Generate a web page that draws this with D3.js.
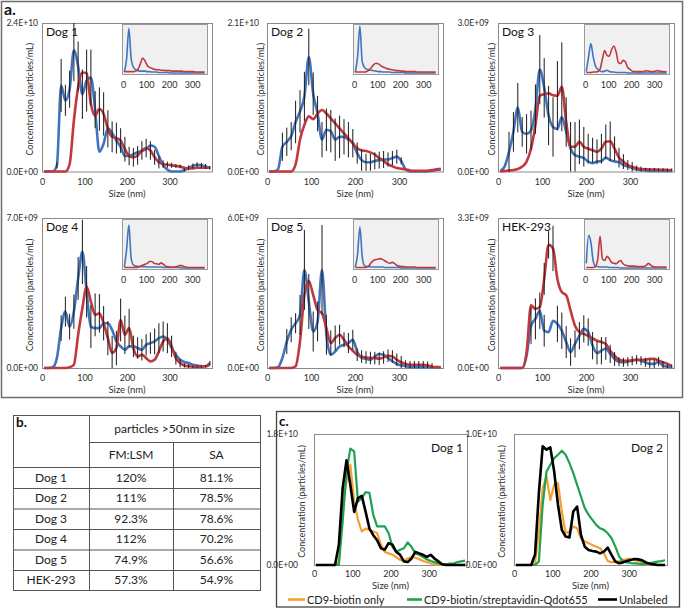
<!DOCTYPE html>
<html><head><meta charset="utf-8">
<script src="https://cdn.jsdelivr.net/npm/d3@7"></script>
<style>
body{margin:0;background:#fff;}
svg{display:block;font-family:Lato,"Open Sans",sans-serif;}
</style></head><body><svg id="c" width="685" height="611"></svg>
<script>
// ---------------- DATA ----------------
const sizesNm = [5,15,25,35,45,55,65,75,85,95,105,115,125,135,145,155,165,175,185,195,205,215,225,235,245,255,265,275,285,295,305,315,325,335,345,355,365,375,385,395];
const insetSizesNm = [5,15,25,35,45,55,65,75,85,95,105,115,125,135,145,155,165,175,185,195,205,215,225,235,245,255,265,275,285,295,305,315,325,335,345,355];
const xTicks = [0,100,200,300];
const panelNames = ["Dog 1","Dog 2","Dog 3","Dog 4","Dog 5","HEK-293"];
const yMaxValues = [2.4e10, 2.1e10, 3.0e9, 7.0e9, 6.0e9, 3.3e9];
const valueUnits = [1e9, 1e9, 1e8, 1e8, 1e8, 1e8];

// panel a, main plots (blue / red series, concentration in valueUnits)
const dog1Blue = [0,0,0,1,13.9,11.5,13.3,19.6,17,12.5,14.7,15.2,10,3.2,4.5,7,6.2,5,4,2.5,2.5,2.8,3.1,3.3,3.6,4.2,4,2.5,1,0.3,0,0,0,0.2,0.6,0.9,1.1,1,0.8,0.6];
const dog1Red = [0,0,0,0,0,0,1.2,8.2,13.6,16,15.9,10.9,9,10.1,9.3,6.9,5.6,5.4,5,3.6,2.5,2.3,2.6,3.4,3.8,3.4,2.3,1.5,1.2,1.1,1,0.9,0.8,0.6,0.5,0.5,0.6,0.6,0.6,0.6];
const dog1BlueErr = [0,0,0,0.5,4.3,2.5,3,5,4,4,5,4.5,3,0,0,0,0,0,0,0,0,0,0,0,0,0,0,0,0,0,0,0,0,0.3,0.4,0.4,0.4,0.4,0.4,0.3];
const dog1RedErr = [0,0,0,0,0,0,0,0,0,0,0,0,0,3.5,3.5,3,2.5,2.5,2,2,1.5,1.5,1.5,1.5,1.5,1.5,1.2,1,0.6,0.5,0.4,0.3,0.3,0,0,0,0,0,0,0];

const dog2Blue = [0,0,0.3,3.5,4.2,5,7,8.5,10.6,16.2,11,8.2,4.5,5.9,5.7,4.5,4.9,4.9,4.5,4,2.6,1.6,1.3,1.3,1.5,1.6,1.7,1.7,1.9,2.1,1.5,0.3,0,0,0,0,0,0.1,0.2,0.3];
const dog2Red = [0,0,0,0,0,0,1,4.5,6.6,7.8,7.4,8.2,8.7,8.2,7.5,6.8,6.1,5.4,4.7,4,3.3,3,2.9,2.7,2.4,1.9,1.5,1,0.75,0.5,0.4,0.3,0.15,0.1,0.1,0.1,0.1,0.2,0.3,0.4];
const dog2BlueErr = [0,0,0,2,2,2,3,3,3.5,4,3,2.5,2.5,3,3,3,3,2.5,2.5,2,1.5,1.5,1.2,1.2,1.2,1.2,1.2,1,1,1,0.5,0,0,0,0,0,0,0,0,0];
const dog2RedErr = [0,0,0,0,0,0,0,0,0,0,0,0,0,0,0,0,0,0,0,0,0,0,0,0,0,0,0,0,0,0,0,0,0,0,0,0,0,0,0,0];

const dog3Blue = [0.1,1,4,8,12.9,8,7.6,8.3,12.6,20.6,16.9,11.3,9,8.6,11,8,4.6,3.3,3,2.7,2,1.7,2,2.1,2.8,2.3,2,1.9,1.3,1,0.7,0.4,0.3,0.2,0.1,0.1,0.1,0.1,0.1,0.1];
const dog3Red = [0,0.1,0.2,0.3,0.5,1,2,4.6,9.3,15.3,15.6,15.8,15.4,15.3,17.1,10,5,5,6,5,4.6,4.3,4,4.6,6,6.1,4.6,2.8,2,1.3,0.9,0.7,0.5,0.45,0.4,0.4,0.35,0.35,0.3,0.3];
const dog3BlueErr = [0,0,4,4,5,3,4,4,5,7,6,6,6,0,0,0,0,0,0,0,0,0,0,0,0,0,0,0,0,0,0,0,0,0,0,0,0,0,0,0];
const dog3RedErr = [0,0,0,0,0,0,0,0,0,0,0,0,0,7,9,5,5,5,4.5,4,3,2.5,2.5,3,3.5,4,2.5,2,1.5,1,1,0.5,0.5,0.3,0.3,0.3,0.3,0.3,0.3,0.3];

const dog4Blue = [0,0,0.3,4.6,18.6,26.3,19.3,26.3,41.8,54.2,35.6,19.3,18.6,18.6,20.9,20.9,17.8,12.4,10.1,8.5,10.1,10.1,9.3,8.5,10.8,11.6,12.4,13.9,14.7,13.2,9.3,6.2,3.9,2.8,2.3,1.5,1.2,0.9,0.8,1.5];
const dog4Red = [0,0,0,0,0,0,0.3,1.5,15.5,27.9,37.9,31,24.8,25.5,20.9,13.9,7,9.3,22.4,15.5,18.6,9.3,5.4,6.2,4.6,3.1,3.9,7.7,12.4,13.9,10.1,4.6,2.3,1.2,0.8,0.6,0.6,0.6,0.8,2.3];
const dog4BlueErr = [0,0,0,0,6,7,6,8,10,15,12,10,0,0,0,0,0,0,0,0,0,5,5,5,5,5,6,7,7,0,0,0,0,0,0,0,0,0,0,0];
const dog4RedErr = [0,0,0,0,0,0,0,0,0,0,0,0,10,9,8,8,8,8,10,9,9,0,0,0,0,0,0,0,0,7,5,3,2,1,1,0.5,0.5,0.5,0.5,1];

const dog5Blue = [0,0,0.3,4,10.6,15.3,17.9,21.2,39.2,26.6,14.6,18.6,39.2,13.3,5.3,6.6,8.6,9.3,10,11.3,6.6,4,3.7,3.3,4.6,5.6,5.3,4,2.7,1.6,1.1,0.7,0.4,0.3,0.3,0.3,0.3,0.3,0.3,0.3];
const dog5Red = [0,0,0,0,0,0,0.7,10.6,29.2,34.8,29.2,23.2,21.9,15.9,10,12,13.3,11.3,8.6,6.9,5.3,4.6,4.2,4,4,3.7,4.2,4.9,4.6,3.3,2.3,1.6,1.3,1.3,1.3,1.3,1.1,0.5,0.4,0.3];
const dog5BlueErr = [0,0,0,0,5,5,4,8,16,11,8,8,18,8,0,0,0,0,4,4,0,0,0,0,0,0,0,0,0,0,0,0,0,0,0,0,0,0,0,0];
const dog5RedErr = [0,0,0,0,0,0,0,0,0,0,0,0,0,0,5,5,4,3,0,0,2.5,2.5,2.5,2.5,2.5,2.5,2.5,2.5,2.5,2.5,2.5,1.5,1.5,1.5,1.5,1.5,1.5,1.5,0,0];

const hekBlue = [0,0,0,0,0,0,2.7,9.3,10.8,12.6,8.2,7.9,10.4,9.7,8.2,5.7,3.5,5.3,7.1,8.6,7.9,4.9,3.3,3.8,4.3,3.1,2,1.4,1.25,1.4,1.6,1.8,1.6,1.25,0.9,0.9,1.4,0.5,0.3,0.15];
const hekRed = [0,0,0,0,0,0,3.5,13.8,13,13.4,19.6,27.1,26.3,19.6,16.7,16,12.6,9.3,7.9,7.5,7.1,6.5,6,5.7,5.3,3.8,2.7,1.8,1.6,1.6,1.7,1.8,1.8,1.8,2,2,1.6,1.25,0.9,0.5];
const hekBlueErr = [0,0,0,0,0,0,0,4,4.5,4,3.5,0,0,4,4,3.5,3,3,3,3,3,3,2.5,3,2.5,2,1.5,1,1,1,1,1,1,1,1,1,1,1,0.5,0.5];
const hekRedErr = [0,0,0,0,0,0,0,0,0,0,3.5,3,5,0,0,0,0,0,0,0,0,0,0,0,0,0,0,0,0,0,0,0,0,0,0,0,0,0,0,0];

// insets (relative height, full size range)
const dog1InsetBlue = [0.02,0.3,0.95,0.3,0.12,0.07,0.05,0.04,0.04,0.04,0.03,0.03,0.02,0.02,0.02,0.01,0.01,0.01,0.01,0.01,0,0,0,0,0,0,0,0,0,0,0,0,0,0,0,0];
const dog1InsetRed = [0.03,0.03,0.03,0.03,0.03,0.04,0.08,0.2,0.32,0.26,0.16,0.12,0.1,0.08,0.07,0.07,0.06,0.06,0.05,0.05,0.05,0.04,0.04,0.04,0.04,0.04,0.03,0.03,0.03,0.03,0.03,0.02,0.02,0.02,0.02,0.02];
const dog2InsetBlue = [0.02,0.35,1.0,0.25,0.12,0.08,0.07,0.06,0.05,0.04,0.03,0.03,0.02,0.02,0.02,0.02,0.01,0.01,0.01,0.01,0.01,0.01,0,0,0,0,0,0,0,0,0,0,0,0,0,0];
const dog2InsetRed = [0.02,0.02,0.02,0.02,0.02,0.03,0.06,0.12,0.18,0.21,0.2,0.16,0.13,0.11,0.09,0.08,0.07,0.06,0.05,0.05,0.04,0.04,0.03,0.03,0.03,0.03,0.03,0.02,0.02,0.02,0.02,0.02,0.02,0.02,0.02,0.02];
const dog3InsetBlue = [0.03,0.35,0.63,0.35,0.15,0.08,0.04,0.03,0.04,0.06,0.03,0.02,0.02,0.01,0.01,0.01,0.01,0.01,0,0,0,0,0,0,0,0,0,0,0,0,0,0,0,0,0,0];
const dog3InsetRed = [0.01,0.01,0.01,0.02,0.02,0.03,0.08,0.3,0.48,0.38,0.36,0.5,0.58,0.45,0.22,0.2,0.27,0.24,0.12,0.08,0.04,0.03,0.03,0.03,0.03,0.03,0.05,0.04,0.03,0.03,0.04,0.05,0.04,0.03,0.03,0.02];
const dog4InsetBlue = [0.02,0.4,0.92,0.2,0.06,0.04,0.03,0.03,0.03,0.03,0.02,0.02,0.02,0.02,0.02,0.02,0.02,0.01,0.01,0.01,0.01,0.01,0.01,0.01,0.01,0,0,0,0,0,0,0,0,0,0,0];
const dog4InsetRed = [0.01,0.01,0.01,0.01,0.01,0.01,0.02,0.04,0.06,0.08,0.1,0.14,0.14,0.1,0.09,0.08,0.11,0.08,0.04,0.03,0.02,0.02,0.02,0.03,0.05,0.05,0.03,0.02,0.01,0.01,0.01,0.01,0.01,0.01,0.01,0.01];
const dog5InsetBlue = [0.02,0.3,0.88,0.25,0.05,0.03,0.03,0.02,0.02,0.02,0.02,0.02,0.02,0.01,0.01,0.01,0.01,0.01,0.01,0.01,0,0,0,0,0,0,0,0,0,0,0,0,0,0,0,0];
const dog5InsetRed = [0.01,0.01,0.01,0.01,0.01,0.02,0.05,0.12,0.16,0.18,0.19,0.2,0.18,0.15,0.12,0.1,0.12,0.1,0.06,0.04,0.03,0.03,0.02,0.02,0.02,0.02,0.02,0.01,0.01,0.01,0.01,0.01,0.01,0.01,0.01,0.01];
const hekInsetBlue = [0.1,0.7,0.55,0.15,0.04,0.03,0.02,0.02,0.02,0.02,0.01,0.01,0.01,0.01,0.01,0,0,0,0,0,0,0,0,0,0,0,0,0,0,0,0,0,0,0,0,0];
const hekInsetRed = [0.01,0.01,0.01,0.01,0.03,0.2,0.68,0.2,0.16,0.25,0.2,0.12,0.1,0.09,0.13,0.16,0.09,0.06,0.05,0.04,0.04,0.04,0.03,0.03,0.03,0.03,0.05,0.1,0.06,0.03,0.02,0.02,0.02,0.02,0.02,0.02];

// panel b
const tableHeader = "particles >50nm in size";
const tableCols = ["FM:LSM","SA"];
const tableRows = ["Dog 1","Dog 2","Dog 3","Dog 4","Dog 5","HEK-293"];
const fmLsmValues = ["120%","111%","92.3%","112%","74.9%","57.3%"];
const saValues = ["81.1%","78.5%","78.6%","70.2%","56.6%","54.9%"];

// panel c
const cNames = ["Dog 1","Dog 2"];
const cYMax = [1.8e10, 1.0e10];
const cUnits = [1e9, 1e8];
const cDog1Orange = [0,0,0,0,0,0,0.5,8.3,11.5,13.8,8.7,6.2,4.6,5,4.8,4.6,4.4,2.8,1.8,1.6,1.4,1.1,0.7,0.55,0.9,1.1,1,0.8,0.55,0.4,0.2,0.1,0,0,0,0,0,0,0,0.1];
const cDog1Green = [0,0,0,0,0,0,0,6,12.8,16,15.6,8.7,9.2,10,9.9,6.9,5.3,5.3,5.3,4.4,2.5,1.8,2.1,2.3,3.1,2.5,1.6,1.4,1.1,0.8,0.55,0.4,0.2,0.1,0.1,0.2,0.2,0.4,0.5,0.6];
const cDog1Black = [0,0,0,0,0,0,2.8,10.6,14.4,11,7.3,9.2,9.5,7.3,5,4.1,3.4,2.3,2.1,3,2.8,1.8,1.4,0.5,0.4,0.9,1.8,1.6,1.4,1.1,1.4,0.9,0.5,0.1,0,0,0,0,0,0];
const cDog2Orange = [0,0,0,0,0,1.3,25.5,58.7,67.6,49.7,61.2,62.5,40.8,24.2,25.5,29.3,28,20.4,17.9,16.6,15.3,14,12.8,8.9,3,2,2.6,3,3.8,4.6,4.6,3.8,3,2,0.5,0.5,0.5,0.3,0.2,0.1];
const cDog2Green = [0,0,0,0,0,0,2.6,46,71.4,76.5,81.6,84.2,87.2,84.2,77.8,70.2,61.2,52.3,43.4,38.3,34.4,30.6,28,26.8,24.2,20.4,14,6.4,3,2,1.5,1.3,1,0.8,0.8,1.5,2,2.6,3,3.6];
const cDog2Black = [0,0,0,0,0,8,55,90.6,88,89.8,71.4,46,26.8,21.7,21,40.8,44.6,23,14,11.5,10.7,10.2,8.9,10.2,13.3,7.7,2.6,1.3,2,3,3.8,4.6,4.3,3.6,2,1,0.5,0,0,0];
const legendLabels = ["CD9-biotin only","CD9-biotin/streptavidin-Qdot655","Unlabeled"];

// ---------------- STYLE / LAYOUT ----------------
const BLUE = "#4174bd", RED = "#c0393d", ORANGE = "#f5a032", GREEN = "#1fa152", BLACK = "#000";
const FRAME = "#8a8a8a", TXT = "#2e2e2e";
const FONT = "Lato, 'Open Sans', sans-serif";

const svg = d3.select("#c");

function sci(v){
  if (v === 0) return "0.0E+00";
  const e = Math.floor(Math.log10(v) + 1e-9);
  const m = v / Math.pow(10, e);
  return m.toFixed(1) + "E+" + String(e).padStart(2, "0");
}

// panel a frame
svg.append("rect").attr("x",1.5).attr("y",1.5).attr("width",681).attr("height",396)
  .attr("fill","none").attr("stroke","#6d6d6d").attr("stroke-width",1.5);
svg.append("text").attr("x",4).attr("y",15).attr("font-size",16).attr("font-weight","bold").attr("fill","#111").text("a.");

const mainBlue = [dog1Blue,dog2Blue,dog3Blue,dog4Blue,dog5Blue,hekBlue];
const mainRed = [dog1Red,dog2Red,dog3Red,dog4Red,dog5Red,hekRed];
const mainBlueErr = [dog1BlueErr,dog2BlueErr,dog3BlueErr,dog4BlueErr,dog5BlueErr,hekBlueErr];
const mainRedErr = [dog1RedErr,dog2RedErr,dog3RedErr,dog4RedErr,dog5RedErr,hekRedErr];
const insetBlue = [dog1InsetBlue,dog2InsetBlue,dog3InsetBlue,dog4InsetBlue,dog5InsetBlue,hekInsetBlue];
const insetRed = [dog1InsetRed,dog2InsetRed,dog3InsetRed,dog4InsetRed,dog5InsetRed,hekInsetRed];

const colLayout = [
  {left:42, right:212, labelRight:38, titleX:30, insetX:122},
  {left:267, right:443, labelRight:259, titleX:261, insetX:353},
  {left:498, right:674, labelRight:489, titleX:492, insetX:584}
];
const rowLayout = [{top:23, bottom:171.5},{top:218, bottom:368}];

panelNames.forEach((name, p) => {
  const c = colLayout[p % 3], r = rowLayout[Math.floor(p / 3)];
  const unit = valueUnits[p], ymax = yMaxValues[p] / unit;
  const x = d3.scaleLinear().domain([0,400]).range([c.left, c.right]);
  const y = d3.scaleLinear().domain([0,ymax]).range([r.bottom, r.top]).clamp(true);
  const g = svg.append("g");

  g.append("rect").attr("x",c.left+0.5).attr("y",r.top+0.5).attr("width",c.right-c.left).attr("height",r.bottom-r.top)
    .attr("fill","#fff").attr("stroke",FRAME).attr("stroke-width",1);

  const xa = g.append("g").attr("transform",`translate(0,${r.bottom})`)
    .call(d3.axisBottom(x).tickValues(xTicks).tickSize(0).tickPadding(7).tickFormat(d3.format("d")));
  xa.select(".domain").remove();
  xa.selectAll("text").attr("font-size",9).attr("fill",TXT).attr("font-family",FONT);

  const ya = g.append("g").attr("transform",`translate(${c.labelRight},0)`)
    .call(d3.axisLeft(y).tickValues([0,ymax]).tickSize(0).tickPadding(0).tickFormat(v => sci(v*unit)));
  ya.select(".domain").remove();
  ya.selectAll("text").attr("font-size",8.5).attr("fill",TXT).attr("font-family",FONT);

  g.append("text").attr("x",(c.left+c.right)/2).attr("y",r.bottom+25).attr("text-anchor","middle")
    .attr("font-size",9.5).attr("fill",TXT).text("Size (nm)");
  g.append("text").attr("transform",`translate(${c.titleX},${(r.top+r.bottom)/2+2}) rotate(-90)`)
    .attr("text-anchor","middle").attr("dy","0.35em").attr("font-size",9).attr("fill",TXT)
    .text("Concentration (particles/mL)");
  g.append("text").attr("x",c.left+4).attr("y",r.top+13).attr("font-size",12).attr("fill","#111").text(name);

  const line = d3.line().x((d,i)=>x(sizesNm[i])).y(d=>y(d)).curve(d3.curveMonotoneX);
  g.append("path").datum(mainBlue[p]).attr("d",line).attr("fill","none").attr("stroke",BLUE).attr("stroke-width",2.6).attr("stroke-linejoin","round");
  g.append("path").datum(mainRed[p]).attr("d",line).attr("fill","none").attr("stroke",RED).attr("stroke-width",2.6).attr("stroke-linejoin","round");

  [[mainBlue[p],mainBlueErr[p]],[mainRed[p],mainRedErr[p]]].forEach(([vals,errs]) => {
    g.append("g").selectAll("line").data(errs.map((e,i)=>({e,v:vals[i],s:sizesNm[i]})).filter(d=>d.e>0))
      .join("line")
      .attr("x1",d=>x(d.s)).attr("x2",d=>x(d.s))
      .attr("y1",d=>y(d.v+d.e)).attr("y2",d=>y(Math.max(0,d.v-d.e)))
      .attr("stroke","#1a1a1a").attr("stroke-width",1);
  });

  const ix0 = c.insetX, ix1 = c.insetX + 85, iy0 = r.top + 1, iy1 = r.top + 51;
  const ix = d3.scaleLinear().domain([-5,365]).range([ix0, ix1]);
  const iy = d3.scaleLinear().domain([0,1.05]).range([iy1-1, iy0]);
  g.append("rect").attr("x",ix0+0.5).attr("y",iy0+0.5).attr("width",ix1-ix0).attr("height",iy1-iy0)
    .attr("fill","#f0f0f0").attr("stroke","#9a9a9a").attr("stroke-width",1);
  const iline = d3.line().x((d,i)=>ix(insetSizesNm[i])).y(d=>iy(d)).curve(d3.curveMonotoneX);
  g.append("path").datum(insetBlue[p]).attr("d",iline).attr("fill","none").attr("stroke",BLUE).attr("stroke-width",1.6);
  g.append("path").datum(insetRed[p]).attr("d",iline).attr("fill","none").attr("stroke",RED).attr("stroke-width",1.6);
  const ia = g.append("g").attr("transform",`translate(0,${iy1})`)
    .call(d3.axisBottom(ix).tickValues(xTicks).tickSize(0).tickPadding(8).tickFormat(d3.format("d")));
  ia.select(".domain").remove();
  ia.selectAll("text").attr("font-size",9).attr("fill",TXT).attr("font-family",FONT);
});

// ---------------- panel b: table ----------------
const tb = svg.append("g");
const tX = [13, 89, 173, 260];
const tY = [415, 442, 467, 488, 508.5, 529, 549.5, 570, 590];
const TL = "#555";
tb.append("rect").attr("x",tX[0]+0.5).attr("y",tY[0]+0.5).attr("width",tX[3]-tX[0]).attr("height",tY[8]-tY[0])
  .attr("fill","none").attr("stroke",TL).attr("stroke-width",1);
tb.append("line").attr("x1",tX[1]+0.5).attr("x2",tX[1]+0.5).attr("y1",tY[0]).attr("y2",tY[8]).attr("stroke",TL);
tb.append("line").attr("x1",tX[2]+0.5).attr("x2",tX[2]+0.5).attr("y1",tY[1]).attr("y2",tY[8]).attr("stroke",TL);
tb.append("line").attr("x1",tX[1]).attr("x2",tX[3]).attr("y1",tY[1]+0.5).attr("y2",tY[1]+0.5).attr("stroke",TL);
for (let k = 2; k < 8; k++) {
  tb.append("line").attr("x1",tX[0]).attr("x2",tX[3]).attr("y1",tY[k]+0.5).attr("y2",tY[k]+0.5).attr("stroke",TL);
}
tb.append("text").attr("x",16).attr("y",427).attr("font-size",13.5).attr("font-weight","bold").attr("fill","#111").text("b.");
const tcx = [(tX[0]+tX[1])/2, (tX[1]+tX[2])/2, (tX[2]+tX[3])/2];
function cell(txt, cx, cy){
  tb.append("text").attr("x",cx).attr("y",cy).attr("dy","0.35em").attr("text-anchor","middle")
    .attr("font-size",12).attr("fill","#222").text(txt);
}
cell(tableHeader, (tX[1]+tX[3])/2, (tY[0]+tY[1])/2);
cell(tableCols[0], tcx[1], (tY[1]+tY[2])/2);
cell(tableCols[1], tcx[2], (tY[1]+tY[2])/2);
tableRows.forEach((rname, i) => {
  const cy = (tY[i+2]+tY[i+3])/2;
  cell(rname, tcx[0], cy);
  cell(fmLsmValues[i], tcx[1], cy);
  cell(saValues[i], tcx[2], cy);
});

// ---------------- panel c ----------------
svg.append("rect").attr("x",276.5).attr("y",411.5).attr("width",403).attr("height",195.5)
  .attr("fill","none").attr("stroke","#444").attr("stroke-width",1.3);
svg.append("text").attr("x",279).attr("y",426).attr("font-size",13.5).attr("font-weight","bold").attr("fill","#111").text("c.");

const cSeries = [[cDog1Orange,cDog1Green,cDog1Black],[cDog2Orange,cDog2Green,cDog2Black]];
const cColors = [ORANGE, GREEN, BLACK];
const cLayout = [{left:314, right:467, labelRight:298, titleX:302},{left:514, right:667, labelRight:497, titleX:502}];
const cTop = 434, cBottom = 565;
cNames.forEach((name, p) => {
  const L = cLayout[p], unit = cUnits[p], ymax = cYMax[p]/unit;
  const x = d3.scaleLinear().domain([0,400]).range([L.left, L.right]);
  const y = d3.scaleLinear().domain([0,ymax]).range([cBottom, cTop]).clamp(true);
  const g = svg.append("g");
  g.append("rect").attr("x",L.left+0.5).attr("y",cTop+0.5).attr("width",L.right-L.left).attr("height",cBottom-cTop)
    .attr("fill","#fff").attr("stroke",FRAME).attr("stroke-width",1);
  const xa = g.append("g").attr("transform",`translate(0,${cBottom})`)
    .call(d3.axisBottom(x).tickValues(xTicks).tickSize(0).tickPadding(6).tickFormat(d3.format("d")));
  xa.select(".domain").remove();
  xa.selectAll("text").attr("font-size",9).attr("fill",TXT).attr("font-family",FONT);
  const ya = g.append("g").attr("transform",`translate(${L.labelRight},0)`)
    .call(d3.axisLeft(y).tickValues([0,ymax]).tickSize(0).tickPadding(0).tickFormat(v => sci(v*unit)));
  ya.select(".domain").remove();
  ya.selectAll("text").attr("font-size",8.5).attr("fill",TXT).attr("font-family",FONT);
  g.append("text").attr("x",(L.left+L.right)/2).attr("y",cBottom+24).attr("text-anchor","middle")
    .attr("font-size",9.5).attr("fill",TXT).text("Size (nm)");
  g.append("text").attr("transform",`translate(${L.titleX},${(cTop+cBottom)/2+2}) rotate(-90)`)
    .attr("text-anchor","middle").attr("dy","0.35em").attr("font-size",9).attr("fill",TXT)
    .text("Concentration (particles/mL)");
  g.append("text").attr("x",L.right-4).attr("y",cTop+18).attr("text-anchor","end").attr("font-size",12).attr("fill","#111").text(name);
  const line = d3.line().x((d,i)=>x(sizesNm[i])).y(d=>y(d));
  cSeries[p].forEach((s, k) => {
    g.append("path").datum(s).attr("d",line).attr("fill","none").attr("stroke",cColors[k])
      .attr("stroke-width",k===2?2.6:2.2).attr("stroke-linejoin","round");
  });
});

const legX = [[288,305,307],[407,422,424],[598,617,619]];
const lg = svg.append("g");
legendLabels.forEach((lab, k) => {
  lg.append("line").attr("x1",legX[k][0]).attr("x2",legX[k][1]).attr("y1",599.5).attr("y2",599.5)
    .attr("stroke",cColors[k]).attr("stroke-width",2.6);
  lg.append("text").attr("x",legX[k][2]).attr("y",600).attr("dy","0.35em").attr("font-size",11).attr("fill","#222").text(lab);
});
</script></body></html>
